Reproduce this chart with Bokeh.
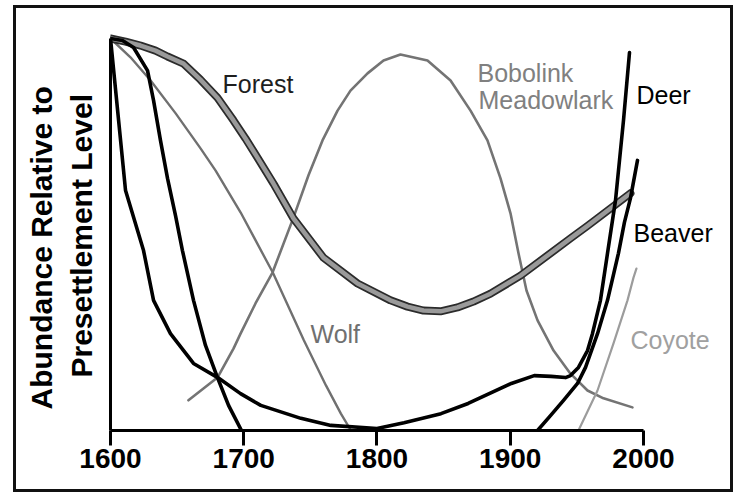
from bokeh.plotting import figure
from bokeh.models import Range1d, FixedTicker, Label, Title, InlineStyleSheet
from bokeh.embed import file_html
from bokeh.resources import INLINE

# ---- data (year, abundance relative to presettlement level, 0..1) ----
tick_years = [1600, 1700, 1800, 1900, 2000]

forest_year = [1600.0, 1611.3, 1622.5, 1633.8, 1642.8, 1654.8, 1667.5, 1680.3, 1692.3, 1701.3,
               1710.3, 1722.3, 1737.3, 1759.8, 1785.4, 1810.1, 1822.9, 1834.9, 1847.7, 1860.4,
               1872.4, 1885.2, 1907.7, 1945.2, 1958.0, 1990.2]
forest_val = [1.0, 0.992, 0.982, 0.969, 0.954, 0.936, 0.895, 0.849, 0.791, 0.745,
              0.696, 0.630, 0.541, 0.441, 0.375, 0.332, 0.316, 0.306, 0.304, 0.314,
              0.329, 0.349, 0.395, 0.490, 0.522, 0.605]

bobolink_year = [1658.5, 1680.3, 1692.3, 1697.6, 1708.8, 1721.6, 1737.3, 1748.6, 1759.1, 1770.4,
                 1780.1, 1792.9, 1804.9, 1817.6, 1837.9, 1855.2, 1870.2, 1882.9, 1892.7, 1900.2,
                 1906.2, 1912.2, 1920.5, 1932.5, 1945.2, 1958.0, 1970.0, 1991.7]
bobolink_val = [0.077, 0.135, 0.209, 0.247, 0.324, 0.403, 0.543, 0.651, 0.740, 0.816,
                0.867, 0.911, 0.944, 0.959, 0.944, 0.893, 0.816, 0.740, 0.643, 0.554,
                0.452, 0.357, 0.281, 0.204, 0.145, 0.102, 0.082, 0.059]

wolf_year = [1600.0, 1615.0, 1630.1, 1648.9, 1667.7, 1678.9, 1697.7, 1721.8, 1745.1, 1761.7, 1772.9, 1780.5]
wolf_val = [1.0, 0.952, 0.893, 0.809, 0.719, 0.663, 0.556, 0.403, 0.230, 0.115, 0.043, 0.0]

deer_year = [1600.0, 1611.3, 1624.8, 1632.3, 1645.0, 1662.3, 1680.5, 1697.6, 1712.8, 1742.9,
             1765.4, 1800.0, 1820.3, 1848.0, 1868.4, 1900.8, 1918.0, 1930.6, 1941.5, 1945.2,
             1951.2, 1958.0, 1961.7, 1967.7, 1973.0, 1979.0, 1982.0, 1985.0, 1989.5]
deer_val = [1.0, 0.612, 0.459, 0.332, 0.247, 0.171, 0.135, 0.094, 0.064, 0.031,
            0.013, 0.005, 0.020, 0.043, 0.069, 0.120, 0.140, 0.138, 0.135, 0.140,
            0.161, 0.204, 0.247, 0.332, 0.452, 0.587, 0.689, 0.791, 0.964]

beaver_early_year = [1600.0, 1609.0, 1617.3, 1627.8, 1632.3, 1637.5, 1642.8, 1648.8, 1654.0,
                     1662.3, 1671.3, 1680.3, 1688.6, 1698.3]
beaver_early_val = [1.0, 0.995, 0.977, 0.918, 0.842, 0.740, 0.643, 0.548, 0.459,
                    0.332, 0.217, 0.135, 0.064, 0.0]

beaver_late_year = [1920.5, 1930.2, 1940.0, 1950.5, 1956.5, 1965.5, 1973.0, 1981.2, 1985.7, 1990.2, 1995.5]
beaver_late_val = [0.0, 0.038, 0.077, 0.120, 0.161, 0.247, 0.332, 0.452, 0.531, 0.592, 0.689]

coyote_year = [1951.2, 1965.5, 1977.5, 1988.0, 1992.5, 1994.7]
coyote_val = [0.0, 0.102, 0.222, 0.332, 0.390, 0.413]

W, H = 733, 492

# ---- figure ----
p = figure(width=W, height=H,
           x_range=Range1d(1600, 2057.8), y_range=Range1d(0, 1.0969),
           min_border_left=110, min_border_right=13, min_border_top=0, min_border_bottom=62,
           toolbar_location=None, output_backend="svg")
p.grid.visible = False
p.outline_line_color = None
p.background_fill_color = None
p.border_fill_color = None

# outer frame round the whole picture (drawn by the page, behind the transparent canvas)
frame_css = ("inset 13px 0 0 0 #ffffff, inset 0 5px 0 0 #ffffff, "
             "inset 16px 0 0 0 #111111, inset 0 8px 0 0 #111111, inset -3px -3px 0 0 #111111")
p.styles = {"box-shadow": frame_css, "background-color": "white"}
p.stylesheets = [InlineStyleSheet(css=":host { box-shadow: %s; background-color: white; }" % frame_css)]

# x axis
xa = p.xaxis[0]
xa.ticker = FixedTicker(ticks=tick_years)
xa.bounds = (1600, 2000)
xa.axis_line_width = 3
xa.axis_line_color = "black"
xa.major_tick_in = 0
xa.major_tick_out = 15
xa.major_tick_line_width = 3
xa.major_tick_line_color = "black"
xa.minor_tick_line_color = None
xa.major_label_text_font = "Liberation Sans"
xa.major_label_text_font_style = "bold"
xa.major_label_text_font_size = "28px"
xa.major_label_text_color = "black"
xa.major_label_standoff = 3

# y axis (line only)
ya = p.yaxis[0]
ya.ticker = FixedTicker(ticks=[])
ya.bounds = (0, 1)
ya.axis_line_width = 3
ya.axis_line_color = "black"
ya.major_tick_out = 0
ya.major_tick_in = 0
ya.minor_tick_line_color = None
ya.major_label_text_font_size = "0px"

# y axis title, two rotated lines
title_style = dict(text_font="Liberation Sans", text_font_style="bold",
                   text_font_size="30px", text_color="black", align="left")
p.add_layout(Title(text="Presettlement Level", offset=53, standoff=22,
                   vertical_align="top", **title_style), "left")
t1 = Title(text="Abundance Relative to", offset=21, standoff=0, **title_style)
try:
    t1.standoff = -8
except Exception:
    t1.standoff = 0
p.add_layout(t1, "left")

# ---- curves ----
common = dict(line_join="round", line_cap="round")
p.line(bobolink_year, bobolink_val, line_color="#747474", line_width=2.6, **common)
p.line(wolf_year, wolf_val, line_color="#707070", line_width=2.4, **common)
p.line(coyote_year, coyote_val, line_color="#9c9c9c", line_width=2.2, **common)
p.line(forest_year, forest_val, line_color="#2b2b2b", line_width=8, **common)
p.line(forest_year, forest_val, line_color="#9a9a9a", line_width=4.5, **common)
p.line(deer_year, deer_val, line_color="black", line_width=3.6, **common)
p.line(beaver_early_year, beaver_early_val, line_color="black", line_width=3.6, **common)
p.line(beaver_late_year, beaver_late_val, line_color="black", line_width=3.6, **common)

# ---- curve labels ----
def lab(x, y, t, color):
    p.add_layout(Label(x=x, y=y, text=t, text_font="Liberation Sans", text_font_size="25px",
                       text_color=color, text_align="left", text_baseline="alphabetic"))

lab(1684.1, 0.885, "Forest", "#1e1e1e")
lab(1875.4, 0.913, "Bobolink", "#808080")
lab(1876.2, 0.842, "Meadowlark", "#808080")
lab(1994.7, 0.855, "Deer", "black")
lab(1992.5, 0.505, "Beaver", "black")
lab(1990.2, 0.230, "Coyote", "#a0a0a0")
lab(1750.1, 0.247, "Wolf", "#707070")

open("out.html", "w").write(file_html(p, INLINE))
